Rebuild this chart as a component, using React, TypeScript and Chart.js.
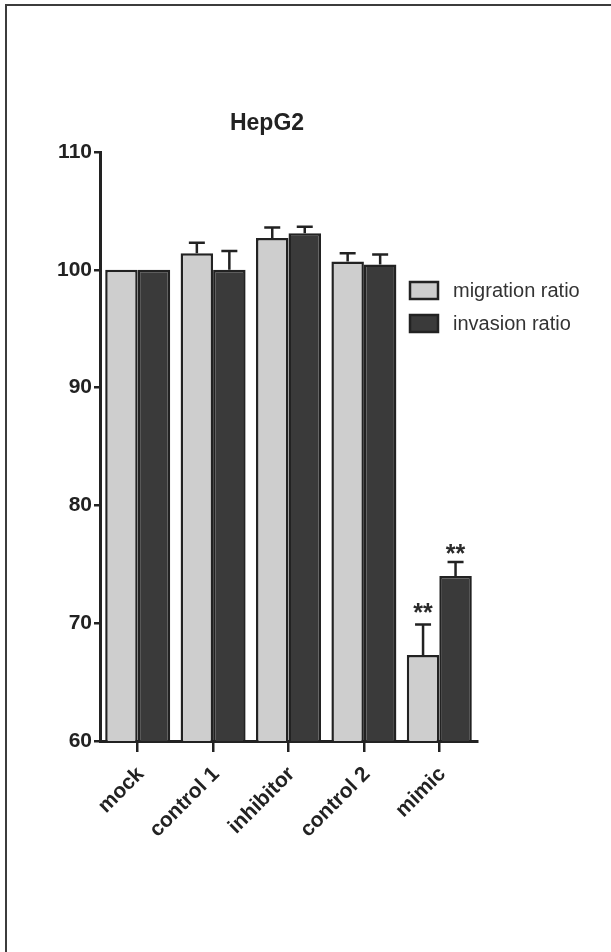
import React, { useEffect, useRef } from "react";
import { Chart, registerables } from "chart.js";

Chart.register(...registerables);

const categories = ["mock", "control 1", "inhibitor", "control 2", "mimic"];
const seriesNames = ["migration ratio", "invasion ratio"];
const migration = [100, 101.4, 102.7, 100.7, 67.3];
const migrationErr = [0, 0.9, 0.9, 0.7, 2.6];
const invasion = [100, 100.0, 103.1, 100.45, 74.0];
const invasionErr = [0, 1.6, 0.55, 0.85, 1.2];
// significance marks: dataset, category, value position, text
const sigDataset = [0, 1];
const sigCategory = [4, 4];
const sigValue = [71.4, 76.4];
const sigText = ["**", "**"];
const yTicks = [60, 70, 80, 90, 100, 110];
const chartTitle = "HepG2";

const FONT = "'Liberation Sans', Arial, Helvetica, sans-serif";
const INK = "#222222";
const LIGHT = "#cecece";
const DARK = "#3a3a3a";

const errors = [migrationErr, invasionErr];

const errorBarPlugin = {
  id: "errorBars",
  afterDatasetsDraw(chart: any) {
    const ctx = chart.ctx;
    const y = chart.scales.y;
    ctx.save();
    ctx.strokeStyle = INK;
    ctx.lineWidth = 2.5;
    chart.data.datasets.forEach((ds: any, di: number) => {
      const meta = chart.getDatasetMeta(di);
      meta.data.forEach((bar: any, i: number) => {
        const err = errors[di][i];
        if (!err) return;
        const top = y.getPixelForValue(ds.data[i] + err);
        ctx.beginPath();
        ctx.moveTo(bar.x, bar.y);
        ctx.lineTo(bar.x, top);
        ctx.moveTo(bar.x - 8, top);
        ctx.lineTo(bar.x + 8, top);
        ctx.stroke();
      });
    });
    ctx.fillStyle = "#2a2a2a";
    ctx.font = `bold 25px ${FONT}`;
    ctx.textAlign = "center";
    ctx.textBaseline = "alphabetic";
    sigText.forEach((t, k) => {
      const bar = chart.getDatasetMeta(sigDataset[k]).data[sigCategory[k]];
      const py = y.getPixelForValue(sigValue[k]);
      ctx.fillText(t, bar.x, py + 14);
    });
    ctx.restore();
  },
};

const decorPlugin = {
  id: "decor",
  afterDraw(chart: any) {
    const ctx = chart.ctx;
    const a = chart.chartArea;
    ctx.save();
    ctx.fillStyle = INK;
    ctx.font = `bold 23px ${FONT}`;
    ctx.textAlign = "center";
    ctx.textBaseline = "alphabetic";
    ctx.fillText(chartTitle, a.left + 167, a.top - 22);
    ctx.font = `20px ${FONT}`;
    ctx.textAlign = "left";
    ctx.textBaseline = "middle";
    chart.data.datasets.forEach((ds: any, i: number) => {
      const bx = a.left + 310;
      const by = a.top + 130 + i * 33;
      ctx.fillStyle = ds.backgroundColor;
      ctx.fillRect(bx, by, 28, 17);
      ctx.strokeStyle = INK;
      ctx.lineWidth = 2.5;
      ctx.strokeRect(bx, by, 28, 17);
      ctx.fillStyle = "#333333";
      ctx.fillText(ds.label, bx + 43, by + 9);
    });
    ctx.restore();
  },
};

export default function App() {
  const ref = useRef<HTMLCanvasElement | null>(null);
  useEffect(() => {
    if (!ref.current) return;
    const chart = new Chart(ref.current, {
      type: "bar",
      data: {
        labels: categories,
        datasets: [
          {
            label: seriesNames[0],
            data: migration,
            backgroundColor: LIGHT,
            borderColor: INK,
            borderWidth: 2.5,
          },
          {
            label: seriesNames[1],
            data: invasion,
            backgroundColor: DARK,
            borderColor: INK,
            borderWidth: 2.5,
          },
        ],
      },
      options: {
        animation: false,
        responsive: false,
        maintainAspectRatio: false,
        layout: { padding: { left: 0, right: 134, top: 152, bottom: 0 } },
        datasets: { bar: { categoryPercentage: 0.862, barPercentage: 1 } },
        plugins: {
          legend: { display: false },
          title: { display: false },
          tooltip: { enabled: false },
        },
        scales: {
          x: {
            afterFit: (s: any) => {
              s.height = 211;
            },
            border: { display: true, color: INK, width: 3 },
            grid: {
              display: true,
              drawOnChartArea: false,
              drawTicks: true,
              tickLength: 11,
              offset: false,
              color: INK,
              lineWidth: 2.5,
            },
            ticks: {
              autoSkip: false,
              minRotation: 45,
              maxRotation: 45,
              padding: 10,
              labelOffset: 3,
              color: INK,
              font: { family: FONT, size: 21, weight: "bold" },
            },
          },
          y: {
            min: 60,
            max: 110,
            afterFit: (s: any) => {
              s.width = 100;
            },
            afterBuildTicks: (s: any) => {
              s.ticks = yTicks.map((v) => ({ value: v }));
            },
            border: { display: true, color: INK, width: 3 },
            grid: {
              display: true,
              drawOnChartArea: false,
              drawTicks: true,
              tickLength: 6,
              color: INK,
              lineWidth: 2.5,
            },
            ticks: {
              padding: 2,
              color: INK,
              font: { family: FONT, size: 21, weight: "bold" },
            },
          },
        },
      },
      plugins: [errorBarPlugin, decorPlugin],
    });
    return () => chart.destroy();
  }, []);

  return (
    <div
      style={{
        position: "fixed",
        left: 0,
        top: 0,
        width: 611,
        height: 952,
        overflow: "hidden",
        background: "#ffffff",
      }}
    >
      <div
        style={{
          position: "absolute",
          left: 5,
          top: 4,
          width: 620,
          height: 960,
          borderTop: "2px solid #3c3c3c",
          borderLeft: "2px solid #3c3c3c",
        }}
      />
      <canvas
        ref={ref}
        width={611}
        height={952}
        style={{ position: "absolute", left: 0, top: 0 }}
      />
    </div>
  );
}
